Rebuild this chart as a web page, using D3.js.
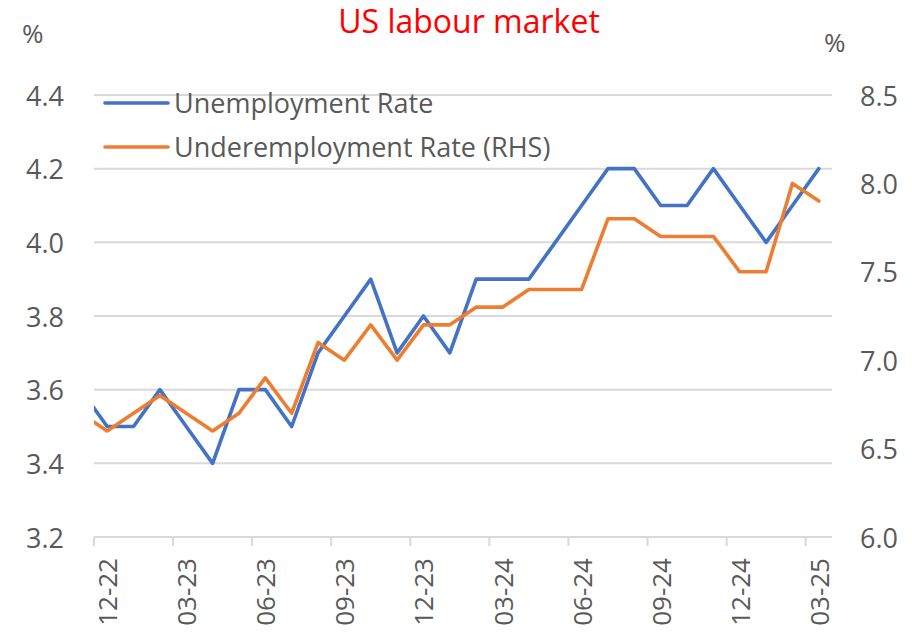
<!DOCTYPE html>
<html>
<head>
<meta charset="utf-8">
<script src="https://cdn.jsdelivr.net/npm/d3@7"></script>
<style>
  body { margin: 0; background: #fff; }
  text { font-family: "Open Sans", sans-serif; }
</style>
</head>
<body>
<script>
var w = 912, h = 636;

// monthly data, 11-22 is cut off by the left edge of the plot
var months = ["11-22", "12-22", "01-23", "02-23", "03-23", "04-23", "05-23", "06-23", "07-23", "08-23",
  "09-23", "10-23", "11-23", "12-23", "01-24", "02-24", "03-24", "04-24", "05-24", "06-24",
  "07-24", "08-24", "09-24", "10-24", "11-24", "12-24", "01-25", "02-25", "03-25"];
var unemployment = [3.6, 3.5, 3.5, 3.6, 3.5, 3.4, 3.6, 3.6, 3.5, 3.7,
  3.8, 3.9, 3.7, 3.8, 3.7, 3.9, 3.9, 3.9, 4.0, 4.1,
  4.2, 4.2, 4.1, 4.1, 4.2, 4.1, 4.0, 4.1, 4.2];
var underemployment = [6.7, 6.6, 6.7, 6.8, 6.7, 6.6, 6.7, 6.9, 6.7, 7.1,
  7.0, 7.2, 7.0, 7.2, 7.2, 7.3, 7.3, 7.4, 7.4, 7.4,
  7.8, 7.8, 7.7, 7.7, 7.7, 7.5, 7.5, 8.0, 7.9];
var tickMonths = ["12-22", "03-23", "06-23", "09-23", "12-23", "03-24", "06-24", "09-24", "12-24", "03-25"];
var leftTicks = [3.2, 3.4, 3.6, 3.8, 4.0, 4.2, 4.4];
var rightTicks = [6.0, 6.5, 7.0, 7.5, 8.0, 8.5];
var seriesNames = ["Unemployment Rate", "Underemployment Rate (RHS)"];
var colors = ["#4472C4", "#ED7D31"];

var plotLeft = 94, plotRight = 832, plotTop = 95, plotBottom = 537;
var grey = "#595959";

var svg = d3.select("body").append("svg").attr("width", w).attr("height", h);

var x = d3.scaleLinear().domain([0.5, months.length - 0.5]).range([plotLeft, plotRight]);
var yL = d3.scaleLinear().domain([3.2, 4.4]).range([plotBottom, plotTop]);
var yR = d3.scaleLinear().domain([6.0, 8.5]).range([plotBottom, plotTop]);

svg.append("clipPath").attr("id", "plot")
  .append("rect").attr("x", plotLeft).attr("y", 0).attr("width", plotRight - plotLeft).attr("height", h);

// gridlines
svg.selectAll("line.grid").data(leftTicks).enter().append("line")
  .attr("class", "grid")
  .attr("x1", plotLeft).attr("x2", plotRight)
  .attr("y1", function (d) { return yL(d); })
  .attr("y2", function (d) { return yL(d); })
  .style("stroke", "#d9d9d9").style("stroke-width", 2);

// x tick marks sit on the category boundaries, labels in the middle
svg.selectAll("line.xtick").data(tickMonths).enter().append("line")
  .attr("class", "xtick")
  .attr("x1", function (d) { return x(months.indexOf(d) - 0.5); })
  .attr("x2", function (d) { return x(months.indexOf(d) - 0.5); })
  .attr("y1", plotBottom).attr("y2", plotBottom + 9)
  .style("stroke", "#d9d9d9").style("stroke-width", 2);

svg.selectAll("text.xlab").data(tickMonths).enter().append("text")
  .attr("class", "xlab")
  .attr("transform", function (d) { return "translate(" + x(months.indexOf(d)) + "," + (plotBottom + 21) + ") rotate(-90)"; })
  .attr("text-anchor", "end")
  .attr("dominant-baseline", "central")
  .style("font-size", "26px").style("fill", grey)
  .text(function (d) { return d; });

svg.selectAll("text.ylab").data(leftTicks).enter().append("text")
  .attr("class", "ylab")
  .attr("x", 64).attr("y", function (d) { return yL(d); })
  .attr("text-anchor", "end").attr("dominant-baseline", "central")
  .style("font-size", "27px").style("fill", grey)
  .text(function (d) { return d.toFixed(1); });

svg.selectAll("text.rlab").data(rightTicks).enter().append("text")
  .attr("class", "rlab")
  .attr("x", 860).attr("y", function (d) { return yR(d); })
  .attr("dominant-baseline", "central")
  .style("font-size", "27px").style("fill", grey)
  .text(function (d) { return d.toFixed(1); });

svg.append("text").attr("x", 22).attr("y", 43).style("font-size", "26px").style("fill", grey).text("%");
svg.append("text").attr("x", 824).attr("y", 52).style("font-size", "26px").style("fill", grey).text("%");

svg.append("text").attr("x", 469).attr("y", 33).attr("text-anchor", "middle")
  .style("font-size", "32px").style("fill", "#FF0000").text("US labour market");

// lines
var lineL = d3.line().x(function (d, i) { return x(i); }).y(function (d) { return yL(d); });
var lineR = d3.line().x(function (d, i) { return x(i); }).y(function (d) { return yR(d); });

var g = svg.append("g").attr("clip-path", "url(#plot)");
g.append("path").datum(unemployment).attr("d", lineL)
  .style("fill", "none").style("stroke", colors[0]).style("stroke-width", 3.6)
  .style("stroke-linejoin", "round").style("stroke-linecap", "round");
g.append("path").datum(underemployment).attr("d", lineR)
  .style("fill", "none").style("stroke", colors[1]).style("stroke-width", 3.6)
  .style("stroke-linejoin", "round").style("stroke-linecap", "round");

// legend
var leg = svg.selectAll("g.leg").data(seriesNames).enter().append("g")
  .attr("class", "leg")
  .attr("transform", function (d, i) { return "translate(105," + (103 + i * 44) + ")"; });
leg.append("line").attr("x1", 0).attr("x2", 63).attr("y1", 0).attr("y2", 0)
  .style("stroke", function (d, i) { return colors[i]; }).style("stroke-width", 3.6)
  .style("stroke-linecap", "round");
leg.append("text").attr("x", 69).attr("y", 10)
  .style("font-size", "27px").style("fill", grey)
  .text(function (d) { return d; });
</script>
</body>
</html>
